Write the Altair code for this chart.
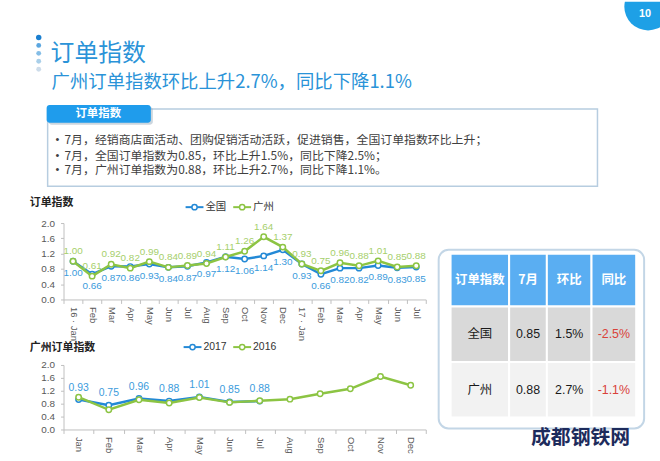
import json
import altair as alt
import pandas as pd

# ---------------- data ----------------
TOP_LABELS = ["16 · Jan", "Feb", "Mar", "Apr", "May", "Jun", "Jul", "Aug", "Sep",
              "Oct", "Nov", "Dec", "17 · Jan", "Feb", "Mar", "Apr", "May", "Jun", "Jul"]
NATIONAL = [1.00, 0.66, 0.87, 0.86, 0.93, 0.84, 0.87, 0.97, 1.12, 1.06, 1.14, 1.30,
            0.93, 0.66, 0.82, 0.82, 0.89, 0.83, 0.85]
GUANGZHOU = [1.00, 0.61, 0.92, 0.82, 0.99, 0.84, 0.89, 0.94, 1.11, 1.26, 1.64, 1.37,
             0.93, 0.75, 0.96, 0.88, 1.01, 0.85, 0.88]
SERIES_TOP = ["全国", "广州"]

MONTHS = ["Jan", "Feb", "Mar", "Apr", "May", "Jun", "Jul", "Aug", "Sep", "Oct", "Nov", "Dec"]
GZ_2017 = [0.93, 0.75, 0.96, 0.88, 1.01, 0.85, 0.88]
GZ_2016 = [1.00, 0.61, 0.92, 0.82, 0.99, 0.84, 0.89, 0.94, 1.11, 1.26, 1.64, 1.37]
SERIES_BOTTOM = ["2017", "2016"]

TABLE_HEADER = ["订单指数", "7月", "环比", "同比"]
TABLE_REGIONS = ["全国", "广州"]
TABLE_JULY = ["0.85", "0.88"]
TABLE_MOM = ["1.5%", "2.7%"]
TABLE_YOY = ["-2.5%", "-1.1%"]

TITLE = "订单指数"
SUBTITLE = "广州订单指数环比上升2.7%，同比下降1.1%"
TAB = "订单指数"
BULLETS = [
    "7月，经销商店面活动、团购促销活动活跃，促进销售，全国订单指数环比上升；",
    "7月，全国订单指数为0.85，环比上升1.5%，同比下降2.5%；",
    "7月，广州订单指数为0.88，环比上升2.7%，同比下降1.1%。",
]
CHART1_TITLE = "订单指数"
CHART2_TITLE = "广州订单指数"
PAGE = "10"
WATERMARK = "成都钢铁网"

# ---------------- style ----------------
CJK = "Noto Sans CJK SC, sans-serif"
LATIN = "Liberation Sans, Noto Sans CJK SC, sans-serif"
BLUE = "#2389d6"
GREEN = "#8cc443"
BLUE_LBL = "#3b9bdc"
GREEN_LBL = "#a6cf6c"
HEAD_BLUE = "#2a93d8"
AXIS_GRAY = "#bfbfbf"
LABEL_GRAY = "#595959"
PLOT_X = [59, 424]   # pixel range of the two line plots

ONE = pd.DataFrame({"k": [0]})


def txt(s, x, y, size, color, weight="normal", align="left", font=CJK):
    return alt.Chart(ONE).mark_text(
        text=s, align=align, baseline="middle", fontSize=size, color=color,
        fontWeight=weight, font=font
    ).encode(x=alt.value(x), y=alt.value(y))


def box(x0, x1, y0, y1, fill, stroke="white", sw=0, radius=0, opacity=1):
    return alt.Chart(ONE).mark_rect(
        fill=fill, stroke=stroke, strokeWidth=sw, cornerRadius=radius, fillOpacity=opacity
    ).encode(x=alt.value(x0), x2=alt.value(x1), y=alt.value(y0), y2=alt.value(y1))


def dot(x, y, size, color, clip=False):
    return alt.Chart(ONE).mark_circle(size=size, color=color, opacity=1, clip=clip).encode(
        x=alt.value(x), y=alt.value(y))


def legend_item(name, color, x, y):
    seg = alt.Chart(ONE).mark_rule(color=color, strokeWidth=2).encode(
        x=alt.value(x), x2=alt.value(x + 18), y=alt.value(y))
    pt = alt.Chart(ONE).mark_point(shape="circle", size=28, filled=False, fill="white",
                                   fillOpacity=1, color=color, strokeWidth=1.5).encode(
        x=alt.value(x + 9), y=alt.value(y))
    label = txt(name, x + 20, y, 10.5, "#333333", font=LATIN)
    return [seg, pt, label]


# ---------------- table (drawn inside the header view, overflowing downward) ----------------
COL_EDGES = [449, 508, 546, 591, 636]
ROW_EDGES = [254, 307, 363, 419]
ROW_FILLS = ["#5aaef2", "#d9d9d9", "#f2f2f2"]
rows = [TABLE_HEADER] + [[r, j, m, y] for r, j, m, y in zip(TABLE_REGIONS, TABLE_JULY, TABLE_MOM, TABLE_YOY)]
cells = []
for ri, row in enumerate(rows):
    for ci, val in enumerate(row):
        if ri == 0:
            tcol = "white"
        elif ci == 3:
            tcol = "#d9413a"
        else:
            tcol = "#1a1a1a"
        cells.append({
            "x0": COL_EDGES[ci], "x1": COL_EDGES[ci + 1],
            "y0": ROW_EDGES[ri], "y1": ROW_EDGES[ri + 1],
            "xc": (COL_EDGES[ci] + COL_EDGES[ci + 1]) / 2,
            "yc": (ROW_EDGES[ri] + ROW_EDGES[ri + 1]) / 2,
            "fill": ROW_FILLS[ri], "txt": val, "tcol": tcol,
            "w": "bold" if ri == 0 else "normal",
        })
cells_df = pd.DataFrame(cells)
frame = box(437, 644, 250, 430, "white", stroke="#c3d6e6", sw=2, radius=10)
cell_rects = alt.Chart(cells_df).mark_rect(stroke="white", strokeWidth=2).encode(
    x=alt.X("x0:Q", scale=None), x2="x1:Q",
    y=alt.Y("y0:Q", scale=None), y2="y1:Q",
    fill=alt.Fill("fill:N", scale=None))
head_txt = alt.Chart(cells_df[cells_df["w"] == "bold"]).mark_text(
    fontSize=12.5, font=CJK, fontWeight="bold", baseline="middle").encode(
    x=alt.X("xc:Q", scale=None), y=alt.Y("yc:Q", scale=None),
    text="txt:N", color=alt.Color("tcol:N", scale=None))
body_txt = alt.Chart(cells_df[cells_df["w"] == "normal"]).mark_text(
    fontSize=12.5, font=LATIN, baseline="middle").encode(
    x=alt.X("xc:Q", scale=None), y=alt.Y("yc:Q", scale=None),
    text="txt:N", color=alt.Color("tcol:N", scale=None))
wm = txt(WATERMARK, 580, 440, 20, "#1d2b5c", weight="bold", align="center")

# ---------------- header ----------------
header_layers = []
header_layers.append(dot(648, 5, 2290, "#1ea0e6", clip=True))
header_layers.append(txt(PAGE, 645, 12, 11, "white", weight="bold", align="center", font=LATIN))
for yy, col, sz in zip([36, 44, 52, 60, 68],
                       ["#1a7fd0", "#5aa6e0", "#84bde6", "#a9cfe9", "#cddcea"],
                       [30, 24, 24, 24, 24]):
    header_layers.append(dot(34, yy, sz, col))
header_layers.append(txt(TITLE, 46, 53, 24, HEAD_BLUE))
header_layers.append(txt(SUBTITLE, 47, 81, 18.5, HEAD_BLUE))
header_layers.append(box(43, 597, 108, 186, "white", stroke="#b7cde0", sw=1.5))
header_layers.append(box(44, 149, 106, 124, "#8fa3b5", radius=3, opacity=0.45))
header_layers.append(box(42, 147, 104, 122, "#1f9cec", radius=3))
header_layers.append(txt(TAB, 94, 113, 11.5, "white", weight="bold", align="center"))
for yy, line in zip([139, 155, 170], BULLETS):
    header_layers.append(txt("•", 51, yy, 11, "#404040", font=LATIN))
    header_layers.append(txt(line, 60, yy, 12, "#404040"))
header_layers.append(txt(CHART1_TITLE, 25, 203, 11, "#222222", weight="bold"))
header_layers += legend_item(SERIES_TOP[0], BLUE, 182, 207)
header_layers += legend_item(SERIES_TOP[1], GREEN, 230, 207)
header_layers += [frame, cell_rects, head_txt, body_txt, wm]
header = alt.layer(*header_layers).properties(width=660, height=223)

# ---------------- shared axes ----------------
y_axis = alt.Axis(values=[0, 0.4, 0.8, 1.2, 1.6, 2.0], format=".1f", grid=False, title=None,
                  labelFont=LATIN, labelFontSize=10, labelColor=LABEL_GRAY,
                  domainColor=AXIS_GRAY, tickColor=AXIS_GRAY, tickSize=3, labelPadding=6,
                  offset=-PLOT_X[0])
y_enc = alt.Y("v:Q", scale=alt.Scale(domain=[0, 2], nice=False), axis=y_axis)


def x_axis(**kw):
    return alt.Axis(labelAngle=90, tickBand="extent", title=None,
                    labelFont=LATIN, labelFontSize=9.5, labelColor=LABEL_GRAY,
                    domainColor=AXIS_GRAY, tickColor=AXIS_GRAY, tickSize=4,
                    labelPadding=3, **kw)


def series_layers(df, xenc, series, color, lblcolor, dy, show_labels=True, lsize=10):
    d = df[df["series"] == series]
    base = alt.Chart(d).encode(x=xenc, y=y_enc)
    out = [base.mark_line(color=color, strokeWidth=2.5,
                          point=alt.OverlayMarkDef(filled=False, fill="white", fillOpacity=1,
                                                   size=30, strokeWidth=1.5, color=color))]
    if show_labels:
        out.append(base.mark_text(dy=dy, fontSize=lsize, color=lblcolor, font=LATIN).encode(
            text=alt.Text("v:Q", format=".2f")))
    return out


# ---------------- top chart ----------------
top_df = pd.DataFrame({
    "idx": list(range(len(TOP_LABELS))) * 2,
    "series": [SERIES_TOP[0]] * len(NATIONAL) + [SERIES_TOP[1]] * len(GUANGZHOU),
    "v": NATIONAL + GUANGZHOU,
})
x_top = alt.X("idx:O",
              scale=alt.Scale(type="band", paddingInner=0, paddingOuter=0, range=PLOT_X),
              axis=x_axis(labelExpr=json.dumps(TOP_LABELS, ensure_ascii=False) + "[datum.value]"))
top_layers = (series_layers(top_df, x_top, SERIES_TOP[0], BLUE, BLUE_LBL, 12)
              + series_layers(top_df, x_top, SERIES_TOP[1], GREEN, GREEN_LBL, -10))
top_chart = alt.layer(*top_layers).properties(width=660, height=77)

# ---------------- bottom chart ----------------
bot_df = pd.DataFrame({
    "m": MONTHS[:len(GZ_2017)] + MONTHS[:len(GZ_2016)],
    "series": [SERIES_BOTTOM[0]] * len(GZ_2017) + [SERIES_BOTTOM[1]] * len(GZ_2016),
    "v": GZ_2017 + GZ_2016,
})
x_bot = alt.X("m:O", sort=MONTHS,
              scale=alt.Scale(type="band", domain=MONTHS, paddingInner=0, paddingOuter=0,
                              range=PLOT_X),
              axis=x_axis())
bot_layers = (series_layers(bot_df, x_bot, SERIES_BOTTOM[0], BLUE, BLUE_LBL, -12, lsize=10.5)
              + series_layers(bot_df, x_bot, SERIES_BOTTOM[1], GREEN, GREEN_LBL, 0, show_labels=False))
bot_layers.append(txt(CHART2_TITLE, 25, -17, 11, "#222222", weight="bold"))
bot_layers += legend_item(SERIES_BOTTOM[0], BLUE, 180, -18)
bot_layers += legend_item(SERIES_BOTTOM[1], GREEN, 230, -18)
bottom_chart = alt.layer(*bot_layers).properties(width=660, height=65)


# ---------------- layout ----------------
def spacer(w, h):
    return alt.Chart(ONE).mark_point(opacity=0).properties(width=w, height=h)


chart = alt.vconcat(header, top_chart, spacer(660, 66), bottom_chart,
                    spacing=0, bounds="flush").properties(
    padding=0, background="white").configure_view(strokeWidth=0)

chart.save("out.html", embed_options={"renderer": "svg", "actions": False})
